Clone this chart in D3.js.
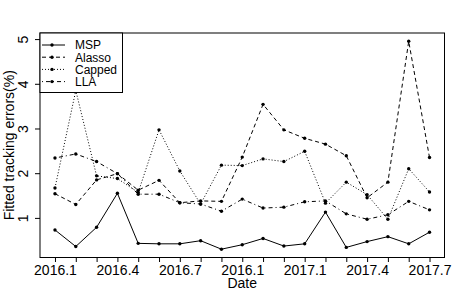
<!doctype html>
<html>
<head>
<meta charset="utf-8">
<title>Fitted tracking errors</title>
<script src="https://d3js.org/d3.v7.min.js"></script>
<style>
    body { margin: 0; background: #fff; }
    text { font-family: "Liberation Sans", Arial, sans-serif; fill: #000; }
</style>
</head>
<body>
<script>

    // monthly dates, 2016.1 .. 2017.7
    var months = d3.range(19);
    var tickLabels = ['2016.1', '', '', '2016.4', '', '', '2016.7', '', '', '2016.1', '', '',
                      '2017.1', '', '', '2017.4', '', '', '2017.7'];
    var yTicks = [1, 2, 3, 4, 5];

    var msp    = [0.73, 0.36, 0.79, 1.55, 0.43, 0.42, 0.42, 0.49, 0.30, 0.40, 0.54, 0.37, 0.42, 1.13, 0.34, 0.47, 0.58, 0.42, 0.68];
    var alasso = [1.54, 1.30, 1.85, 1.99, 1.62, 1.84, 1.34, 1.38, 1.37, 2.36, 3.54, 2.97, 2.78, 2.65, 2.39, 1.45, 1.80, 4.95, 2.35];
    var capped = [1.67, 3.85, 1.94, 1.88, 1.57, 2.97, 2.05, 1.31, 2.18, 2.17, 2.32, 2.26, 2.49, 1.33, 1.80, 1.52, 0.97, 2.10, 1.58];
    var lla    = [2.34, 2.43, 2.26, 1.99, 1.53, 1.53, 1.34, 1.31, 1.15, 1.42, 1.22, 1.24, 1.36, 1.38, 1.09, 0.97, 1.07, 1.37, 1.18];

    var seriesNames = ['MSP', 'Alasso', 'Capped', 'LLA'];
    var seriesDash = [null, '4,3', '1,2', '1,3,4,3'];
    var seriesData = [msp, alasso, capped, lla];

    var W = 465, H = 299;
    var plotL = 40, plotR = 444.5, plotT = 33, plotB = 257.5;

    var svg = d3.select('body').append('svg')
        .attr('width', W)
        .attr('height', H);

    // R style 4% padding around the data
    var x = d3.scaleLinear().domain([-0.72, 18.72]).range([plotL, plotR]);
    var y = d3.scaleLinear().domain([0.114, 5.136]).range([plotB, plotT]);

    var line = d3.line()
        .x((d, i) => x(i))
        .y((d) => y(d));

    seriesData.forEach(function(s, k){
        svg.append('path')
            .datum(s)
            .attr('d', line)
            .attr('fill', 'none')
            .attr('stroke', '#000')
            .attr('stroke-width', 1)
            .attr('stroke-dasharray', seriesDash[k]);
        svg.append('g').selectAll('circle')
            .data(s)
            .enter()
            .append('circle')
            .attr('cx', (d, i) => x(i))
            .attr('cy', (d) => y(d))
            .attr('r', 1.7)
            .attr('fill', '#000');
    });

    // box
    svg.append('rect')
        .attr('x', plotL)
        .attr('y', plotT)
        .attr('width', plotR - plotL)
        .attr('height', plotB - plotT)
        .attr('fill', 'none')
        .attr('stroke', '#000')
        .attr('stroke-width', 1);

    // x axis
    var xAxis = d3.axisBottom(x)
        .tickValues(months)
        .tickSize(4.5)
        .tickPadding(3)
        .tickFormat((d) => tickLabels[d]);
    var gx = svg.append('g')
        .attr('transform', 'translate(0,' + plotB + ')')
        .call(xAxis);
    gx.select('.domain').remove();
    gx.selectAll('text')
        .style('font-size', '14px')
        .style('font-family', '"Liberation Sans", Arial, sans-serif');

    // y axis
    var yAxis = d3.axisLeft(y)
        .tickValues(yTicks)
        .tickSize(5)
        .tickFormat(d3.format('d'));
    var gy = svg.append('g')
        .attr('transform', 'translate(' + plotL + ',0)')
        .call(yAxis);
    gy.select('.domain').remove();
    gy.selectAll('text')
        .attr('x', null)
        .attr('dy', null)
        .attr('transform', 'translate(-12,0) rotate(-90)')
        .attr('text-anchor', 'middle')
        .style('font-size', '14px')
        .style('font-family', '"Liberation Sans", Arial, sans-serif');

    // axis titles
    svg.append('text')
        .attr('x', (plotL + plotR) / 2)
        .attr('y', 287.5)
        .attr('text-anchor', 'middle')
        .style('font-size', '14px')
        .text('Date');

    svg.append('text')
        .attr('transform', 'translate(13.5,' + ((plotT + plotB) / 2) + ') rotate(-90)')
        .attr('text-anchor', 'middle')
        .style('font-size', '14px')
        .text('Fitted tracking errors(%)');

    // legend
    var legend = svg.append('g');
    legend.append('rect')
        .attr('x', plotL)
        .attr('y', plotT)
        .attr('width', 82.5)
        .attr('height', 59.5)
        .attr('fill', '#fff')
        .attr('stroke', '#000')
        .attr('stroke-width', 1);

    seriesNames.forEach(function(name, k){
        var ly = 45 + k * 12.2;
        legend.append('line')
            .attr('x1', 42).attr('x2', 65)
            .attr('y1', ly).attr('y2', ly)
            .attr('stroke', '#000')
            .attr('stroke-width', 1)
            .attr('stroke-dasharray', seriesDash[k]);
        legend.append('circle')
            .attr('cx', 52).attr('cy', ly)
            .attr('r', 1.7)
            .attr('fill', '#000');
        legend.append('text')
            .attr('x', 75)
            .attr('y', ly + 4.3)
            .style('font-size', '12px')
            .text(name);
    });

</script>
</body>
</html>
